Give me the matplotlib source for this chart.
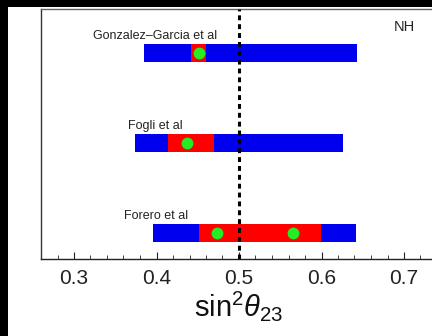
import matplotlib
matplotlib.use('Agg')
import matplotlib.pyplot as plt
from matplotlib.patches import Rectangle
from matplotlib.ticker import MultipleLocator

plt.rcParams['font.family'] = ['Liberation Sans', 'DejaVu Sans']
plt.rcParams['mathtext.fontset'] = 'custom'
plt.rcParams['mathtext.rm'] = 'Liberation Sans'
plt.rcParams['mathtext.it'] = 'Liberation Sans:italic'

# fits, bottom to top
fits = ['Forero et al', 'Fogli et al', 'Gonzalez\u2013Garcia et al']
ypos = [1, 2, 3]
blue_lo = [0.396, 0.374, 0.385]
blue_hi = [0.642, 0.626, 0.643]
red_lo = [0.452, 0.414, 0.442]
red_hi = [0.599, 0.470, 0.460]
best_fit = [[0.473, 0.566], [0.437], [0.452]]
label_x = [0.361, 0.365, 0.323]

fig = plt.figure(figsize=(4.32, 3.36), dpi=100, facecolor='black')
fig.patches.append(Rectangle((8 / 432, 0), 1, 329 / 336, transform=fig.transFigure,
                             facecolor='white', edgecolor='none', zorder=-10))
ax = fig.add_axes([41 / 432, 77 / 336, 396 / 432, 250 / 336])
ax.set_facecolor('white')

bh = 0.2
for i in range(len(fits)):
    y = ypos[i]
    ax.barh(y, blue_hi[i] - blue_lo[i], left=blue_lo[i], height=bh, color='#0000ee', zorder=2)
    ax.barh(y, red_hi[i] - red_lo[i], left=red_lo[i], height=bh, color='#ff0000', zorder=3)
    ax.plot(best_fit[i], [y] * len(best_fit[i]), 'o', color='#22ee22', markersize=8.5,
            markeredgewidth=0, zorder=4)
    ax.text(label_x[i], y + 0.155, fits[i], fontsize=9, color='#222222',
            va='baseline', ha='left')

ax.axvline(0.5, color='black', linewidth=2.2, linestyle=(0, (1.6, 1.3)), zorder=5)
ax.text(0.687, 3.29, 'NH', fontsize=10.5, color='#222222', ha='left', va='center')

ax.set_xlim(0.26, 0.74)
ax.set_ylim(0.711, 3.489)
ax.set_yticks([])
ax.xaxis.set_major_locator(MultipleLocator(0.1))
ax.xaxis.set_minor_locator(MultipleLocator(0.02))
ax.tick_params(axis='x', which='major', direction='in', length=5, width=0.8, labelsize=15,
               pad=7, colors='#222222')
ax.tick_params(axis='x', which='minor', direction='in', length=3, width=0.6, colors='#222222')
ax.spines['right'].set_visible(False)
ax.spines['top'].set_color('#666666')
ax.spines['left'].set_color('#333333')
ax.spines['bottom'].set_color('#222222')
for s in ax.spines.values():
    s.set_linewidth(1.0)
ax.set_xlabel(r'$\mathrm{sin}^2\theta_{23}$', fontsize=21, labelpad=1, color='#111111')

fig.savefig('out.png', dpi=100, facecolor='black')
